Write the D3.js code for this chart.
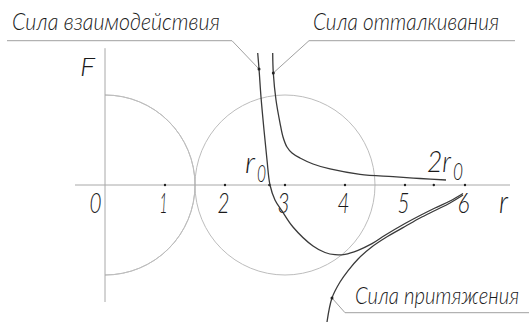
<!DOCTYPE html>
<html><head><meta charset="utf-8">
<script src="https://cdn.jsdelivr.net/npm/d3@7"></script>
<style>
html,body{margin:0;padding:0;background:#fff;}
svg{display:block;}
text{font-family:"Lato","DejaVu Sans",sans-serif;font-weight:300;font-style:italic;fill:#1a1a1a;}
</style></head>
<body><svg id="c" width="529" height="322"></svg>
<script>
// ---- data (r in arbitrary distance units, F in arbitrary force units) ----
const rTicks = [0, 1, 2, 3, 4, 5, 6];
const tickLabels = ["0", "1", "2", "3", "4", "5", "6"];
const r0 = 2.74;
const markDots = [1, 2, 3, 4, 5, 6, r0, 2 * r0];
const circleCenters = [0, 3];
const circleRadius = 1.5;

const interaction = [
  [2.545, 2.2], [2.567, 1.933], [2.6, 1.467], [2.65, 0.917], [2.7, 0.417],
  [2.75, 0], [2.833, -0.25], [2.95, -0.433], [3.133, -0.7], [3.467, -1.017],
  [3.667, -1.125], [3.833, -1.162], [4.0, -1.155], [4.217, -1.088], [4.45, -0.978],
  [4.667, -0.838], [5.0, -0.642], [5.25, -0.508], [5.5, -0.383], [5.75, -0.267],
  [5.967, -0.142]
];
const repulsion = [
  [2.795, 2.2], [2.805, 1.867], [2.85, 1.417], [2.917, 1.033], [2.967, 0.8],
  [3.033, 0.633], [3.117, 0.533], [3.25, 0.45], [3.467, 0.35], [3.75, 0.267],
  [4.25, 0.178], [4.8, 0.138], [5.25, 0.108], [5.683, 0.083]
];
const attraction = [
  [3.7, -2.283], [3.783, -1.883], [3.917, -1.617], [4.055, -1.422], [4.222, -1.228],
  [4.445, -1.033], [4.667, -0.883], [5.0, -0.692], [5.25, -0.55], [5.5, -0.425],
  [5.75, -0.3], [5.967, -0.167]
];
const seriesNames = ["Сила взаимодействия", "Сила отталкивания", "Сила притяжения"];

// ---- scales ----
const svg = d3.select("#c");
const x = d3.scaleLinear().domain([0, 6]).range([105, 465]);
const y = d3.scaleLinear().domain([-2, 2]).range([305, 65]);
const unit = x(1) - x(0);

// circles (left one: right half only)
const arc = d3.arc();
svg.append("path")
  .attr("transform", `translate(${x(0)},${y(0)})`)
  .attr("d", arc({innerRadius: circleRadius * unit, outerRadius: circleRadius * unit, startAngle: 0, endAngle: Math.PI}))
  .attr("fill", "none").attr("stroke", "#bdbdbd").attr("stroke-width", 1);
svg.append("circle")
  .attr("cx", x(circleCenters[1])).attr("cy", y(0)).attr("r", circleRadius * unit)
  .attr("fill", "none").attr("stroke", "#bdbdbd").attr("stroke-width", 1);

// axes lines
svg.append("line").attr("x1", x(-0.5)).attr("x2", x(6.75)).attr("y1", y(0)).attr("y2", y(0))
  .attr("stroke", "#a8a8a8").attr("stroke-width", 1);
svg.append("line").attr("x1", x(0)).attr("x2", x(0)).attr("y1", y(2.28)).attr("y2", y(-1.95))
  .attr("stroke", "#a8a8a8").attr("stroke-width", 1);

// tick labels via d3 axis
const axis = d3.axisBottom(x).tickValues(rTicks).tickSize(0).tickPadding(0)
  .tickFormat((d, i) => tickLabels[i]);
const gAx = svg.append("g").attr("transform", `translate(0,${y(0)})`).call(axis);
gAx.select(".domain").remove();
gAx.attr("font-family", null).attr("font-size", null);
gAx.selectAll(".tick text")
  .style("font-size", "28px")
  .attr("y", 28).attr("dy", null)
  .attr("x", d => d === 0 ? -10 : -2)
  .attr("fill", "#1a1a1a")
  .attr("text-anchor", "middle")
  .attr("textLength", d => d === 1 ? 8 : 12)
  .attr("lengthAdjust", "spacingAndGlyphs");

// tick dots
svg.selectAll(".mk").data(markDots).join("circle").attr("class", "mk")
  .attr("cx", d => x(d)).attr("cy", y(0)).attr("r", 1.2).attr("fill", "#222");

// curves
const line = d3.line().x(d => x(d[0])).y(d => y(d[1])).curve(d3.curveCatmullRom.alpha(0.5));
[interaction, repulsion, attraction].forEach(s => {
  svg.append("path").attr("d", line(s)).attr("fill", "none")
    .attr("stroke", "#3a3a3a").attr("stroke-width", 1.3);
});

// leaders & labels
const leaders = [
  {pt: interaction[1], path: [[x(interaction[1][0]), y(interaction[1][1])], [232, 40.7], [7, 40.7]]},
  {pt: repulsion[1], path: [[x(repulsion[1][0]), y(repulsion[1][1])], [309, 40.7], [515, 40.7]]},
  {pt: attraction[1], path: [[x(attraction[1][0]), y(attraction[1][1])], [345, 312.7], [529, 312.7]]}
];
leaders.forEach(l => {
  svg.append("path").attr("d", d3.line()(l.path)).attr("fill", "none")
    .attr("stroke", "#a0a0a0").attr("stroke-width", 1);
  svg.append("circle").attr("cx", x(l.pt[0])).attr("cy", y(l.pt[1])).attr("r", 1.5).attr("fill", "#222");
});
const labelPos = [
  {x: 12, y: 29.5, fs: 23, tl: 208},
  {x: 313, y: 29.5, fs: 23, tl: 186},
  {x: 355, y: 304, fs: 24, tl: 164}
];
seriesNames.forEach((n, i) => {
  const p = labelPos[i];
  svg.append("text").attr("x", p.x).attr("y", p.y).style("font-size", p.fs + "px")
    .attr("textLength", p.tl).attr("lengthAdjust", "spacingAndGlyphs").text(n);
});

// axis titles and r0 marks
const extraText = [
  {t: "F", x: 80, y: 76, fs: 26, tl: 15},
  {t: "r", x: 499, y: 213, fs: 31, tl: 9},
  {t: "r", x: 245, y: 173, fs: 29, tl: 10},
  {t: "0", x: 257, y: 182, fs: 23, tl: 9},
  {t: "2r", x: 427, y: 172, fs: 30, tl: 24},
  {t: "0", x: 453, y: 180, fs: 23, tl: 10}
];
extraText.forEach(e => {
  svg.append("text").attr("x", e.x).attr("y", e.y).style("font-size", e.fs + "px")
    .attr("textLength", e.tl).attr("lengthAdjust", "spacingAndGlyphs").text(e.t);
});
</script></body></html>
